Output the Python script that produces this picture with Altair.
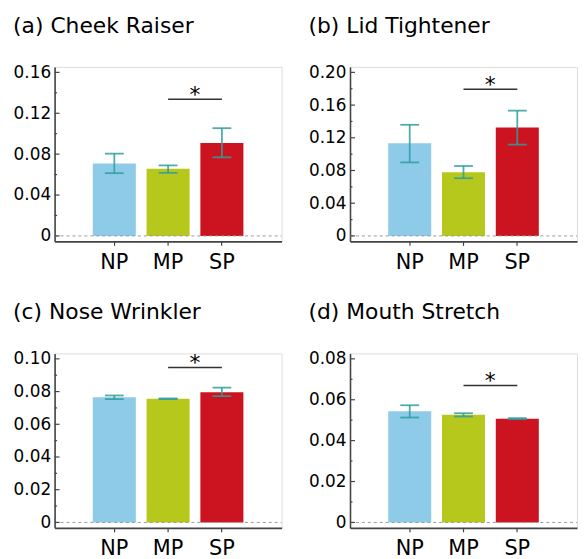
import altair as alt
import pandas as pd

categories = ["NP", "MP", "SP"]
bar_colors = ["#8ecbe8", "#b6c81c", "#cc1420"]
panel_titles = ["(a) Cheek Raiser", "(b) Lid Tightener", "(c) Nose Wrinkler", "(d) Mouth Stretch"]

cheek_mean = [0.0708, 0.0656, 0.0908]
cheek_lo = [0.0614, 0.0617, 0.0769]
cheek_hi = [0.0805, 0.0690, 0.1054]
cheek_sig = 0.1338
cheek_major = [0, 0.04, 0.08, 0.12, 0.16]
cheek_minor = [0.02, 0.06, 0.10, 0.14]

lid_mean = [0.1133, 0.0778, 0.1327]
lid_lo = [0.0899, 0.0706, 0.1117]
lid_hi = [0.1359, 0.0855, 0.1532]
lid_sig = 0.1794
lid_major = [0, 0.04, 0.08, 0.12, 0.16, 0.20]
lid_minor = [0.02, 0.06, 0.10, 0.14, 0.18]

nose_mean = [0.0766, 0.0756, 0.0796]
nose_lo = [0.0754, 0.0754, 0.0772]
nose_hi = [0.0776, 0.0758, 0.0824]
nose_sig = 0.0947
nose_major = [0, 0.02, 0.04, 0.06, 0.08, 0.10]
nose_minor = [0.01, 0.03, 0.05, 0.07, 0.09]

mouth_mean = [0.0544, 0.0526, 0.0507]
mouth_lo = [0.0513, 0.0518, 0.0505]
mouth_hi = [0.0573, 0.0534, 0.0510]
mouth_sig = 0.0670
mouth_major = [0, 0.02, 0.04, 0.06, 0.08]
mouth_minor = [0.01, 0.03, 0.05, 0.07]

W, H = 229, 176
AX = "#444444"
EB = "#2f9e9e"
FONT = "DejaVu Sans"


def make_panel(title, mean, lo, hi, sig, majors, minors):
    ymax = max(majors)
    df = pd.DataFrame({"cat": categories, "mean": mean, "lo": lo, "hi": hi})
    xscale = alt.Scale(domain=categories, paddingInner=0.2, paddingOuter=0.71)
    yscale = alt.Scale(domain=[0, ymax], nice=False, zero=True, padding=5.5)
    x_axis = alt.Axis(title=None, labelAngle=0, labelFontSize=21, labelFont=FONT,
                      labelColor="#000", labelPadding=6, tickSize=4, tickColor=AX,
                      tickWidth=1.2, domainColor=AX, domainWidth=1.6, grid=False)
    y_axis = alt.Axis(title=None, values=majors, ticks=False, grid=False,
                      labelExpr="datum.value == 0 ? '0' : format(datum.value, '.2f')",
                      labelFontSize=17, labelFont=FONT, labelColor="#000",
                      labelPadding=4, domainColor=AX, domainWidth=1.6)

    def X(f):
        return alt.X(f, scale=xscale, axis=x_axis)

    def Y(f):
        return alt.Y(f, scale=yscale, axis=y_axis)

    bars = alt.Chart(df).mark_bar().encode(
        x=X("cat:N"), y=Y("mean:Q"),
        color=alt.Color("cat:N", scale=alt.Scale(domain=categories, range=bar_colors), legend=None),
    )
    zero = alt.Chart(pd.DataFrame({"v": [0]})).mark_rule(
        color="#999999", strokeDash=[3, 3], strokeWidth=1
    ).encode(y=Y("v:Q"), x=alt.value(0), x2=alt.value(W))
    major_ticks = alt.Chart(pd.DataFrame({"v": majors})).mark_rule(
        color=AX, strokeWidth=1.2
    ).encode(y=Y("v:Q"), x=alt.value(0), x2=alt.value(5))
    minor_ticks = alt.Chart(pd.DataFrame({"v": minors})).mark_rule(
        color=AX, strokeWidth=1.2
    ).encode(y=Y("v:Q"), x=alt.value(0), x2=alt.value(2.5))
    eb = alt.Chart(df).mark_rule(color=EB, strokeWidth=1.8, opacity=0.85).encode(
        x=X("cat:N"), y=Y("lo:Q"), y2="hi:Q")
    cap_lo = alt.Chart(df).mark_tick(color=EB, thickness=1.8, size=19, opacity=0.85).encode(
        x=X("cat:N"), y=Y("lo:Q"))
    cap_hi = alt.Chart(df).mark_tick(color=EB, thickness=1.8, size=19, opacity=0.85).encode(
        x=X("cat:N"), y=Y("hi:Q"))
    sdf = pd.DataFrame({"cat": ["MP"], "b": ["SP"], "v": [sig], "t": ["*"]})
    sig_line = alt.Chart(sdf).mark_rule(color="#333333", strokeWidth=1.5).encode(
        x=X("cat:N"), x2="b:N", y=Y("v:Q"))
    sig_text = alt.Chart(sdf).mark_text(fontSize=22, font=FONT, dx=27, dy=3,
                                        baseline="alphabetic", color="#000").encode(
        x=X("cat:N"), y=Y("v:Q"), text="t:N")

    return alt.layer(bars, zero, eb, cap_lo, cap_hi, major_ticks, minor_ticks, sig_line, sig_text).properties(
        width=W, height=H,
        title=alt.TitleParams(text=title, anchor="start", frame="bounds", fontSize=22, font=FONT,
                              fontWeight="normal", color="#000", offset=26),
    )


pa = make_panel(panel_titles[0], cheek_mean, cheek_lo, cheek_hi, cheek_sig, cheek_major, cheek_minor)
pb = make_panel(panel_titles[1], lid_mean, lid_lo, lid_hi, lid_sig, lid_major, lid_minor)
pc = make_panel(panel_titles[2], nose_mean, nose_lo, nose_hi, nose_sig, nose_major, nose_minor)
pd_ = make_panel(panel_titles[3], mouth_mean, mouth_lo, mouth_hi, mouth_sig, mouth_major, mouth_minor)

chart = alt.vconcat(
    alt.hconcat(pa, pb, spacing=25),
    alt.hconcat(pc, pd_, spacing=25),
    spacing=27,
).properties(
    padding={"left": 4, "top": 3, "right": 0, "bottom": 0}
).configure_view(strokeWidth=0).configure(font=FONT)

chart.save("out.html", embed_options={"renderer": "svg", "actions": False})
